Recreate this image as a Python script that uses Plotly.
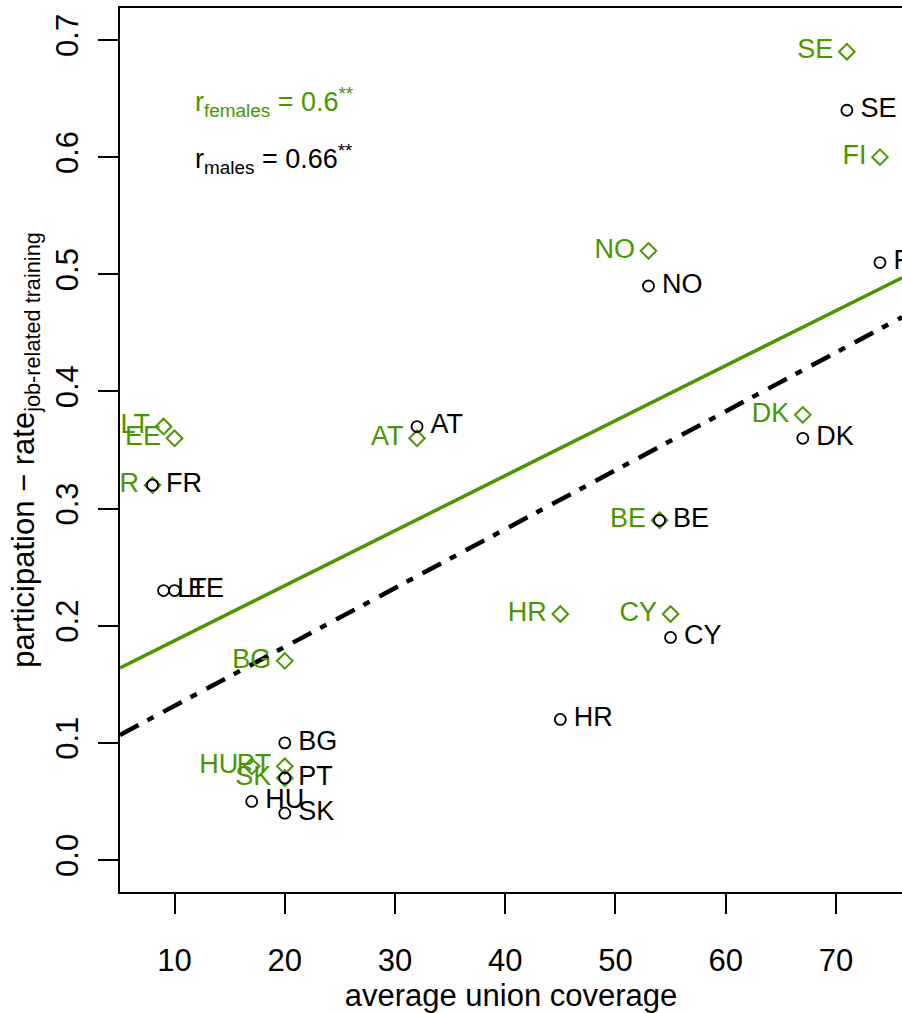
import numpy as np
import plotly.graph_objects as go

# Country codes and average union coverage (same x for both sexes)
countries = ["SE", "FI", "NO", "AT", "DK", "FR", "BE", "LT", "EE", "CY", "HR", "BG", "PT", "HU", "SK"]
coverage = [71, 74, 53, 32, 67, 8, 54, 9, 10, 55, 45, 20, 20, 17, 20]

# Participation rate in job-related training
rate_males = [0.64, 0.51, 0.49, 0.37, 0.36, 0.32, 0.29, 0.23, 0.23, 0.19, 0.12, 0.10, 0.07, 0.05, 0.04]
rate_females = [0.69, 0.60, 0.52, 0.36, 0.38, 0.32, 0.29, 0.37, 0.36, 0.21, 0.21, 0.17, 0.08, 0.08, 0.07]

x_ticks = [10, 20, 30, 40, 50, 60, 70]
y_ticks = [0.0, 0.1, 0.2, 0.3, 0.4, 0.5, 0.6, 0.7]
x_range = [5.05, 76.0]
y_range = [-0.0273, 0.7273]

GREEN = "#4A9600"
BLACK = "#000000"
FONT = "Liberation Sans, Arial, Helvetica, sans-serif"
FS = 27       # point labels and r annotations
FS_AX = 31    # tick labels and axis titles

x = np.array(coverage, dtype=float)
ym = np.array(rate_males)
yf = np.array(rate_females)

# OLS fits and correlations
bm = np.polyfit(x, ym, 1)
bf = np.polyfit(x, yf, 1)
r_m = np.corrcoef(x, ym)[0, 1]
r_f = np.corrcoef(x, yf)[0, 1]

fig = go.Figure()

xl = np.array(x_range)
fig.add_trace(go.Scatter(x=xl, y=np.polyval(bf, xl), mode="lines",
                         line=dict(color=GREEN, width=3.5), hoverinfo="skip"))
fig.add_trace(go.Scatter(x=xl, y=np.polyval(bm, xl), mode="lines",
                         line=dict(color=BLACK, width=4.5, dash="21px,10px,7px,11px"),
                         hoverinfo="skip"))

# markers
fig.add_trace(go.Scatter(x=x, y=yf, mode="markers",
                         marker=dict(symbol="diamond-open", size=12, color=GREEN,
                                     line=dict(color=GREEN, width=2))))
fig.add_trace(go.Scatter(x=x, y=ym, mode="markers",
                         marker=dict(symbol="circle-open", size=11, color=BLACK,
                                     line=dict(color=BLACK, width=1.8))))

# country labels (invisible marker sets the text offset)
fig.add_trace(go.Scatter(x=x, y=yf, mode="markers+text", text=countries,
                         textposition="middle left",
                         textfont=dict(color=GREEN, size=FS, family=FONT),
                         marker=dict(size=20, color="rgba(0,0,0,0)"),
                         cliponaxis=True, hoverinfo="skip"))
fig.add_trace(go.Scatter(x=x, y=ym, mode="markers+text", text=countries,
                         textposition="middle right",
                         textfont=dict(color=BLACK, size=FS, family=FONT),
                         marker=dict(size=20, color="rgba(0,0,0,0)"),
                         cliponaxis=True, hoverinfo="skip"))

def fmt(v):
    return f"{round(v, 2):g}"

fig.add_annotation(x=11.7, y=0.647, xref="x", yref="y", xanchor="left", yanchor="middle",
                   showarrow=False,
                   text=f"r<sub>females</sub> = {fmt(r_f)}<sup>**</sup>",
                   font=dict(color=GREEN, size=FS, family=FONT))
fig.add_annotation(x=11.7, y=0.598, xref="x", yref="y", xanchor="left", yanchor="middle",
                   showarrow=False,
                   text=f"r<sub>males</sub> = {fmt(r_m)}<sup>**</sup>",
                   font=dict(color=BLACK, size=FS, family=FONT))

fig.update_layout(
    width=902, height=1013,
    margin=dict(l=120, r=0, t=8, b=121),
    paper_bgcolor="white", plot_bgcolor="white",
    showlegend=False,
    font=dict(family=FONT, size=FS_AX, color=BLACK),
    xaxis=dict(range=x_range, tickvals=x_ticks, ticktext=[str(v) for v in x_ticks],
               tickfont=dict(size=FS_AX, family=FONT),
               showgrid=False, zeroline=False, showline=True, mirror=True,
               linecolor=BLACK, linewidth=2, ticks="outside", ticklen=20, tickwidth=1.5,
               tickcolor=BLACK, ticklabelstandoff=20,
               title=dict(text="average union coverage", standoff=4,
                          font=dict(size=FS_AX, family=FONT))),
    yaxis=dict(range=y_range, tickvals=y_ticks, ticktext=[f"{v:.1f}" for v in y_ticks],
               tickangle=-90, tickfont=dict(size=FS_AX, family=FONT),
               showgrid=False, zeroline=False, showline=True, mirror=False,
               linecolor=BLACK, linewidth=2, ticks="outside", ticklen=20, tickwidth=1.5,
               tickcolor=BLACK, ticklabelstandoff=8,
               title=dict(text="participation \u2212 rate<sub>job-related training</sub>",
                          standoff=6, font=dict(size=FS_AX, family=FONT))),
)

fig.write_html("out.html")
